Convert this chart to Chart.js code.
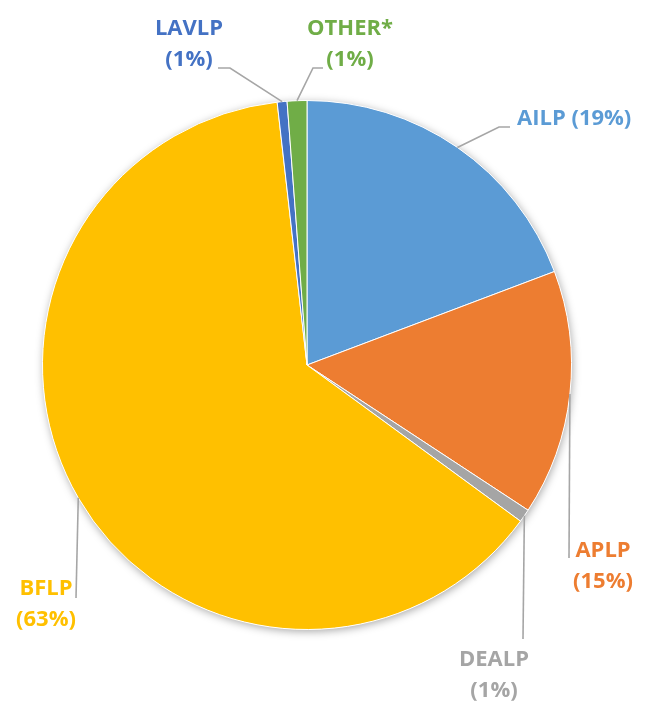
<!DOCTYPE html>
<html>
<head>
<meta charset="utf-8">
<script src="https://cdn.jsdelivr.net/npm/chart.js@4.4.1/dist/chart.umd.min.js"></script>
<style>
  html, body { margin: 0; padding: 0; background: #fff; }
  #wrap { width: 652px; height: 704px; position: relative; }
</style>
</head>
<body>
<div id="wrap"><canvas id="pieChart" width="652" height="704"></canvas></div>
<script>
// datos del grafico (porcentajes)
var categorias = ['AILP', 'APLP', 'DEALP', 'BFLP', 'LAVLP', 'OTHER*'];
var valores = [19.25, 15.0, 0.8, 63.15, 0.6, 1.2];
var colores = ['#5B9BD5', '#ED7D31', '#A5A5A5', '#FFC000', '#4472C4', '#70AD47'];

// posicion de las etiquetas y quiebres de las lineas guia
var etiquetas = {
    'AILP':   { x: 517, y: 119, align: 'left',   oneLine: true, elbow: [[499, 127], [510, 127]] },
    'APLP':   { x: 603, y: 551, align: 'center', elbow: [[569, 558]] },
    'DEALP':  { x: 494, y: 660, align: 'center', elbow: [[523, 639]] },
    'BFLP':   { x: 46,  y: 589, align: 'center', elbow: [[76, 598]] },
    'LAVLP':  { x: 189, y: 29,  align: 'center', elbow: [[230, 68], [218, 68]] },
    'OTHER*': { x: 350, y: 29,  align: 'center', elbow: [[313, 68], [323, 68]] }
};

// sombra suave detras del circulo
var sombraPlugin = {
    id: 'sombra',
    beforeDatasetsDraw: function(chart) {
        var arc = chart.getDatasetMeta(0).data[0];
        if (!arc) return;
        var p = arc.getProps(['x', 'y', 'outerRadius'], true);
        var ctx = chart.ctx;
        ctx.save();
        ctx.shadowColor = 'rgba(0,0,0,0.35)';
        ctx.shadowBlur = 9;
        ctx.shadowOffsetX = 1;
        ctx.shadowOffsetY = 2;
        ctx.fillStyle = '#ffffff';
        ctx.beginPath();
        ctx.arc(p.x, p.y, p.outerRadius, 0, Math.PI * 2);
        ctx.fill();
        ctx.restore();
    }
};

// etiquetas externas con lineas guia
var etiquetasPlugin = {
    id: 'etiquetasExternas',
    afterDatasetsDraw: function(chart) {
        var ctx = chart.ctx;
        var meta = chart.getDatasetMeta(0);
        var total = valores.reduce(function(a, b) { return a + b; }, 0);
        meta.data.forEach(function(arc, i) {
            var cfg = etiquetas[categorias[i]];
            var p = arc.getProps(['x', 'y', 'startAngle', 'endAngle', 'outerRadius'], true);
            var mid = (p.startAngle + p.endAngle) / 2;
            var ex = p.x + Math.cos(mid) * p.outerRadius;
            var ey = p.y + Math.sin(mid) * p.outerRadius;

            ctx.save();
            ctx.strokeStyle = '#A6A6A6';
            ctx.lineWidth = 1.6;
            ctx.beginPath();
            ctx.moveTo(ex, ey);
            cfg.elbow.forEach(function(pt) { ctx.lineTo(pt[0], pt[1]); });
            ctx.stroke();

            var pct = '(' + Math.round(valores[i] / total * 100) + '%)';
            ctx.fillStyle = colores[i];
            ctx.font = 'bold 22px "Open Sans"';
            ctx.textAlign = cfg.align;
            ctx.textBaseline = 'middle';
            if (cfg.oneLine) {
                ctx.fillText(categorias[i] + ' ' + pct, cfg.x, cfg.y);
            } else {
                ctx.fillText(categorias[i], cfg.x, cfg.y);
                ctx.fillText(pct, cfg.x, cfg.y + 31);
            }
            ctx.restore();
        });
    }
};

var pieChart = new Chart(document.getElementById('pieChart'), {
    type: 'pie',
    data: {
        labels: categorias,
        datasets: [{
            data: valores,
            backgroundColor: colores,
            borderColor: '#ffffff',
            borderWidth: 1
        }]
    },
    options: {
        responsive: false,
        animation: false,
        layout: { padding: { left: 42, right: 80, top: 100, bottom: 74 } },
        plugins: {
            legend: { display: false },
            tooltip: { enabled: false }
        }
    },
    plugins: [sombraPlugin, etiquetasPlugin]
});
</script>
</body>
</html>
